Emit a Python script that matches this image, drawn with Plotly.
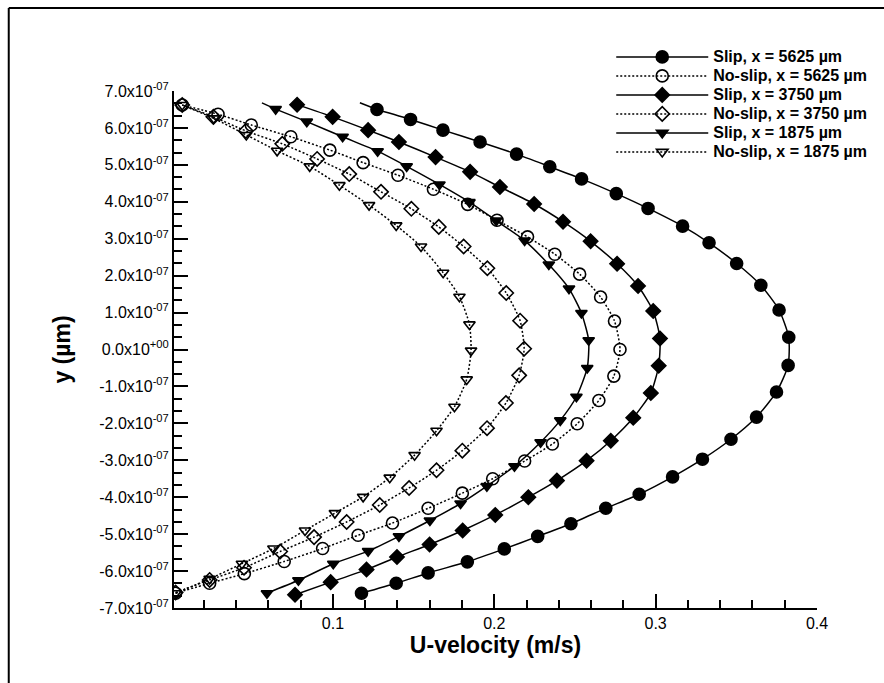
import numpy as np
import plotly.graph_objects as go

# ---------------- data (U in m/s, y in units of 1e-7 m) ----------------
u_slip_5625 = [0.1177, 0.1392, 0.1590, 0.1833, 0.2062, 0.2269, 0.2475, 0.2691, 0.2898, 0.3105,
               0.3290, 0.3467, 0.3625, 0.3749, 0.3821, 0.3825, 0.3765, 0.3652, 0.3502, 0.3331,
               0.3167, 0.2953, 0.2756, 0.2541, 0.2344, 0.2138, 0.1912, 0.1682, 0.1481, 0.1273]
y_slip_5625 = [-6.60, -6.33, -6.05, -5.75, -5.40, -5.06, -4.72, -4.30, -3.92, -3.45,
               -2.97, -2.43, -1.83, -1.15, -0.43, 0.33, 1.07, 1.74, 2.33, 2.89,
               3.34, 3.82, 4.22, 4.62, 4.95, 5.29, 5.62, 5.94, 6.23, 6.50]
u_slip_5625_end = [0.1273, 0.1167]
y_slip_5625_end = [6.50, 6.68]

u_noslip_5625 = [0.0025, 0.0236, 0.0451, 0.0698, 0.0936, 0.1156, 0.1369, 0.1590, 0.1802, 0.1990,
                 0.2188, 0.2360, 0.2514, 0.2648, 0.2741, 0.2779, 0.2745, 0.2659, 0.2529, 0.2375,
                 0.2206, 0.2017, 0.1835, 0.1623, 0.1403, 0.1187, 0.0981, 0.0739, 0.0494, 0.0288, 0.0066]
y_noslip_5625 = [-6.60, -6.33, -6.07, -5.74, -5.39, -5.03, -4.70, -4.30, -3.89, -3.50,
                 -3.02, -2.56, -2.01, -1.38, -0.72, 0.00, 0.77, 1.42, 2.04, 2.58,
                 3.05, 3.50, 3.93, 4.34, 4.72, 5.06, 5.40, 5.76, 6.08, 6.37, 6.62]

u_slip_3750 = [0.0765, 0.0986, 0.1208, 0.1397, 0.1599, 0.1804, 0.2006, 0.2211, 0.2388, 0.2572,
               0.2722, 0.2861, 0.2970, 0.3019, 0.3027, 0.2985, 0.2891, 0.2761, 0.2597, 0.2426,
               0.2247, 0.2035, 0.1850, 0.1636, 0.1409, 0.1218, 0.0998, 0.0778]
y_slip_3750 = [-6.64, -6.30, -5.96, -5.62, -5.28, -4.90, -4.48, -4.00, -3.55, -3.01,
               -2.47, -1.85, -1.18, -0.44, 0.30, 1.04, 1.72, 2.32, 2.93, 3.46,
               3.94, 4.40, 4.81, 5.21, 5.62, 5.94, 6.30, 6.63]

u_noslip_3750 = [0.0025, 0.0236, 0.0449, 0.0673, 0.0883, 0.1085, 0.1290, 0.1472, 0.1642, 0.1802,
                 0.1955, 0.2072, 0.2154, 0.2185, 0.2160, 0.2074, 0.1957, 0.1810, 0.1656, 0.1486,
                 0.1298, 0.1101, 0.0902, 0.0686, 0.0460, 0.0259, 0.0066]
y_noslip_3750 = [-6.58, -6.24, -5.91, -5.47, -5.08, -4.67, -4.21, -3.75, -3.27, -2.74,
                 -2.13, -1.45, -0.70, 0.02, 0.78, 1.53, 2.20, 2.79, 3.32, 3.81,
                 4.27, 4.75, 5.16, 5.57, 5.92, 6.30, 6.62]

u_slip_1875 = [0.0591, 0.0786, 0.1002, 0.1218, 0.1409, 0.1601, 0.1791, 0.1954, 0.2125, 0.2287,
               0.2409, 0.2509, 0.2576, 0.2585, 0.2540, 0.2463, 0.2338, 0.2188, 0.2012, 0.1846,
               0.1660, 0.1457, 0.1277, 0.1060, 0.0838, 0.0645]
y_slip_1875 = [-6.60, -6.25, -5.80, -5.46, -5.06, -4.63, -4.17, -3.70, -3.16, -2.51,
               -1.92, -1.28, -0.50, 0.25, 0.99, 1.65, 2.30, 2.95, 3.49, 3.99,
               4.47, 4.96, 5.37, 5.76, 6.17, 6.51]
u_slip_1875_end = [0.0645, 0.0560]
y_slip_1875_end = [6.51, 6.68]

u_noslip_1875 = [0.0025, 0.0236, 0.0436, 0.0631, 0.0827, 0.1012, 0.1187, 0.1352, 0.1506, 0.1642,
                 0.1753, 0.1829, 0.1856, 0.1846, 0.1784, 0.1683, 0.1546, 0.1392, 0.1224, 0.1040,
                 0.0856, 0.0654, 0.0463, 0.0261, 0.0066]
y_noslip_1875 = [-6.60, -6.21, -5.80, -5.39, -4.90, -4.43, -3.99, -3.47, -2.86, -2.20,
                 -1.55, -0.81, -0.03, 0.68, 1.43, 2.08, 2.79, 3.36, 3.91, 4.45,
                 4.96, 5.38, 5.81, 6.26, 6.62]

y_tick_values = [-7, -6, -5, -4, -3, -2, -1, 0, 1, 2, 3, 4, 5, 6, 7]
x_tick_values = [0.1, 0.2, 0.3, 0.4]

series_names = ["Slip, x = 5625 \u00b5m", "No-slip, x = 5625 \u00b5m",
                "Slip, x = 3750 \u00b5m", "No-slip, x = 3750 \u00b5m",
                "Slip, x = 1875 \u00b5m", "No-slip, x = 1875 \u00b5m"]

SCALE = 1e-7
FONT = "Liberation Sans, Arial, sans-serif"

def ylab(v):
    if v == 0:
        return "0.0x10<sup>+00</sup>"
    return f"{v:.1f}x10<sup>-07</sup>"

fig = go.Figure()

styles = [
    (u_slip_5625, y_slip_5625, "circle", 12, "solid"),
    (u_noslip_5625, y_noslip_5625, "circle-open", 12, "2px,2px"),
    (u_slip_3750, y_slip_3750, "diamond", 11, "solid"),
    (u_noslip_3750, y_noslip_3750, "diamond-open", 11, "2px,2px"),
    (u_slip_1875, y_slip_1875, "triangle-down", 10, "solid"),
    (u_noslip_1875, y_noslip_1875, "triangle-down-open", 10, "2px,2px"),
]

# extra line tails (no markers)
for uu, yy in [(u_slip_5625_end, y_slip_5625_end), (u_slip_1875_end, y_slip_1875_end)]:
    fig.add_trace(go.Scatter(x=uu, y=np.array(yy) * SCALE, mode="lines",
                             line=dict(color="black", width=1.5), showlegend=False,
                             hoverinfo="skip"))

for (uu, yy, sym, sz, dash), name in zip(styles, series_names):
    fig.add_trace(go.Scatter(
        x=uu, y=np.array(yy) * SCALE, mode="lines+markers",
        name=f'<span style="font-size:16px">{name}</span>',
        line=dict(color="black", width=1.5, dash=dash, shape="spline", smoothing=0.6),
        marker=dict(symbol=sym, size=sz, color="black",
                    line=dict(color="black", width=1.6)),
    ))

# outer frame
fig.add_shape(type="line", xref="paper", yref="paper", x0=-0.257, x1=-0.257, y0=1.1607, y1=-0.2,
              line=dict(color="black", width=2))
fig.add_shape(type="line", xref="paper", yref="paper", x0=-0.257, x1=1.2, y0=1.1607, y1=1.1607,
              line=dict(color="black", width=2))

fig.update_layout(
    width=884, height=683,
    margin=dict(l=174, r=65, t=91, b=75),
    paper_bgcolor="white", plot_bgcolor="white",
    font=dict(family=FONT, color="black"),
    showlegend=True,
    legend=dict(x=0.680, y=1.094, xanchor="left", yanchor="top",
                font=dict(family=FONT, size=12, color="black", weight="bold"),
                bgcolor="rgba(0,0,0,0)", itemwidth=92, tracegroupgap=0),
)

fig.update_xaxes(
    range=[0.0015, 0.4], showgrid=False, zeroline=False,
    showline=True, linecolor="black", linewidth=2,
    ticks="inside", ticklen=14, tickwidth=2, tickcolor="black",
    tickmode="array", tickvals=x_tick_values, ticktext=[f"{v:.1f}" for v in x_tick_values],
    tickfont=dict(family=FONT, size=16, color="black"),
    minor=dict(ticks="inside", tick0=0, dtick=0.02, ticklen=8, tickwidth=2, tickcolor="black", showgrid=False),
    title=dict(text="<b>U-velocity (m/s)</b>", font=dict(family=FONT, size=23, color="black"), standoff=2),
)
fig.update_yaxes(
    range=[-7e-7, 7e-7], showgrid=False, zeroline=False,
    showline=True, linecolor="black", linewidth=2,
    ticks="inside", ticklen=14, tickwidth=2, tickcolor="black",
    tickmode="array", tickvals=[v * SCALE for v in y_tick_values],
    ticktext=[ylab(v) for v in y_tick_values],
    tickfont=dict(family=FONT, size=16, color="black"),
    minor=dict(ticks="inside", tick0=0, dtick=SCALE / 3, ticklen=8, tickwidth=2, tickcolor="black", showgrid=False),
    title=dict(text="<b>y (\u00b5m)</b>", font=dict(family=FONT, size=23, color="black"), standoff=22),
)

fig.write_html("out.html")
